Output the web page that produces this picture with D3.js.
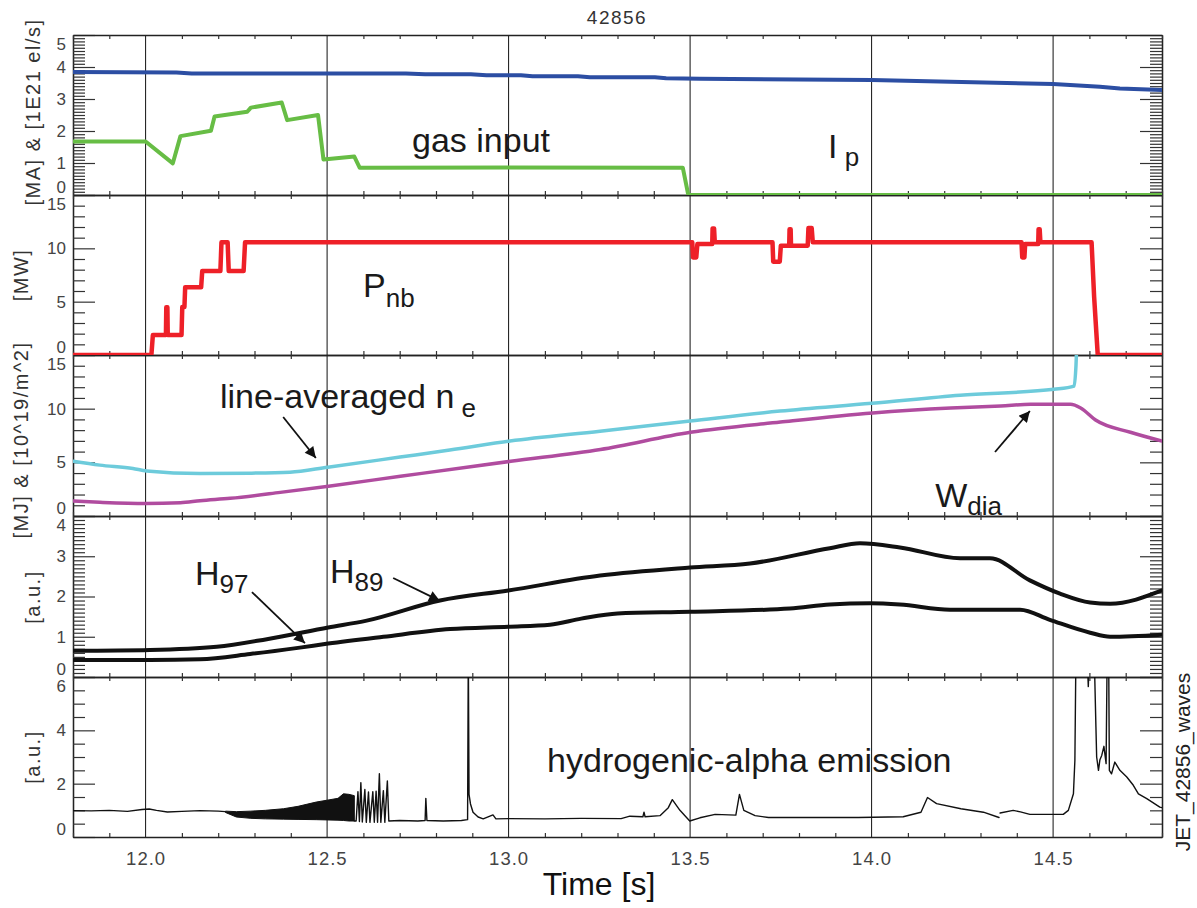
<!DOCTYPE html>
<html>
<head>
<meta charset="utf-8">
<script src="https://cdn.jsdelivr.net/npm/d3@7"></script>
<style>
body { margin: 0; background: #fff; }
text { font-family: "Liberation Sans", Arial, Helvetica, sans-serif; }
</style>
</head>
<body>
<script>
// ---- data (time in s) ----
const xDomain = [11.8, 14.8];
const xMajor = [12.0, 12.5, 13.0, 13.5, 14.0, 14.5];
const xLabels = ["12.0", "12.5", "13.0", "13.5", "14.0", "14.5"];

const yDomains = [[0, 5], [0, 15], [0, 15], [0, 4], [0, 6]];
const yMajorStep = [1, 5, 5, 1, 2];
const yMinorStep = [0.1, 1, 1, 0.1, 0.5];
const yTitles = ["[MA] & [1E21 el/s]", "[MW]", "[MJ] & [10^19/m^2]", "[a.u.]", "[a.u.]"];

// panel 1: plasma current and gas input
const ipT = [11.8, 12.085, 12.127, 12.717, 12.77, 12.896, 12.939, 13.034, 13.066, 13.191, 13.224, 13.403, 13.434, 13.527, 14.0, 14.5, 14.629, 14.684, 14.8];
const ipV = [3.84, 3.83, 3.80, 3.80, 3.77, 3.77, 3.74, 3.74, 3.71, 3.71, 3.68, 3.68, 3.65, 3.63, 3.59, 3.47, 3.38, 3.33, 3.28];
const gasT = [11.8, 12.0, 12.075, 12.096, 12.18, 12.19, 12.28, 12.29, 12.375, 12.39, 12.475, 12.49, 12.575, 12.59, 13.0, 13.48, 13.495, 14.8];
const gasV = [1.67, 1.67, 0.99, 1.84, 2.01, 2.45, 2.60, 2.73, 2.89, 2.34, 2.50, 1.11, 1.20, 0.85, 0.86, 0.85, 0.0, 0.0];

// panel 2: neutral beam power
const pnbT = [11.8, 12.016, 12.02, 12.056, 12.057, 12.06, 12.061, 12.099, 12.101, 12.107, 12.109, 12.153, 12.156, 12.206, 12.209, 12.226, 12.229, 12.27, 12.274,
  13.506, 13.508, 13.517, 13.52, 13.561, 13.562, 13.566, 13.568, 13.727, 13.729, 13.747, 13.75, 13.773, 13.774, 13.777, 13.778, 13.824, 13.826, 13.835, 13.838,
  14.413, 14.415, 14.421, 14.423, 14.459, 14.46, 14.463, 14.465, 14.606, 14.613, 14.618, 14.623, 14.8];
const pnbV = [0, 0, 1.87, 1.87, 4.47, 4.47, 1.87, 1.87, 4.5, 4.5, 6.35, 6.35, 7.87, 7.87, 10.56, 10.56, 7.87, 7.87, 10.56,
  10.56, 9.15, 9.15, 10.4, 10.4, 11.87, 11.87, 10.56, 10.56, 8.75, 8.75, 10.25, 10.25, 11.78, 11.78, 10.25, 10.25, 11.9, 11.9, 10.56,
  10.56, 9.15, 9.15, 10.4, 10.4, 11.8, 11.8, 10.56, 10.56, 5.47, 2.72, 0, 0];

// panel 3: line-averaged density and diamagnetic energy
const neT = [11.8, 11.874, 11.965, 12.003, 12.15, 12.288, 12.398, 12.502, 12.701, 12.838, 13.004, 13.252, 13.5, 13.748, 14.001, 14.244, 14.502, 14.558, 14.563, 14.566];
const neV = [5.1, 4.74, 4.43, 4.2, 3.96, 3.99, 4.08, 4.55, 5.49, 6.14, 6.98, 7.9, 8.85, 9.78, 10.5, 11.26, 11.8, 12.1, 14.0, 16.5];
const wdiaT = [11.8, 11.874, 12.0, 12.096, 12.15, 12.233, 12.371, 12.504, 12.702, 13.006, 13.253, 13.501, 13.749, 14.003, 14.218, 14.356, 14.438, 14.548, 14.576, 14.617, 14.713, 14.8];
const wdiaV = [1.4, 1.28, 1.16, 1.23, 1.42, 1.65, 2.2, 2.78, 3.7, 5.1, 6.2, 7.8, 8.75, 9.6, 10.06, 10.25, 10.4, 10.4, 10.06, 8.94, 7.8, 6.98];

// panel 4: confinement factors
const h89T = [11.8, 12.012, 12.196, 12.334, 12.503, 12.609, 12.811, 12.999, 13.252, 13.5, 13.665, 13.885, 13.968, 14.078, 14.244, 14.326, 14.436, 14.519, 14.602, 14.657, 14.8];
const h89V = [0.65, 0.67, 0.75, 0.94, 1.23, 1.4, 1.9, 2.15, 2.52, 2.72, 2.82, 3.2, 3.32, 3.22, 2.95, 2.95, 2.4, 2.07, 1.85, 1.82, 2.15];
const h97T = [11.8, 12.012, 12.15, 12.288, 12.425, 12.503, 12.655, 12.839, 12.999, 13.114, 13.2, 13.3, 13.5, 13.775, 13.885, 13.996, 14.078, 14.216, 14.409, 14.491, 14.602, 14.657, 14.8];
const h97V = [0.42, 0.42, 0.44, 0.57, 0.73, 0.83, 1.0, 1.19, 1.25, 1.3, 1.45, 1.58, 1.62, 1.7, 1.8, 1.83, 1.8, 1.67, 1.67, 1.42, 1.1, 1.0, 1.05];

// panel 5: H-alpha emission (segments around the dense ELM band and the gap at 14.35 s)
const haPreT = [11.8, 11.85, 11.9, 11.95, 11.99, 12.01, 12.03, 12.06, 12.1, 12.15, 12.2, 12.22];
const haPreV = [0.99, 0.98, 1.0, 0.96, 1.03, 1.05, 1.0, 0.94, 0.96, 0.99, 0.97, 0.95];
const haT = [12.575, 12.58, 12.585, 12.589, 12.593, 12.597, 12.604, 12.608, 12.614, 12.618, 12.626, 12.63, 12.635, 12.639, 12.644, 12.648, 12.655, 12.659, 12.666, 12.67,
  12.7, 12.75, 12.77, 12.772, 12.775, 12.82, 12.87, 12.887, 12.889, 12.891, 12.895, 12.902, 12.916, 12.93, 12.957, 12.965, 13.0, 13.1, 13.2, 13.31,
  13.334, 13.37, 13.373, 13.376, 13.417, 13.44, 13.451, 13.472, 13.499, 13.527, 13.569, 13.626, 13.636, 13.648, 13.679, 13.716, 13.839, 13.963, 14.087,
  14.136, 14.154, 14.179, 14.246, 14.308, 14.351];
const haV = [0.6, 0.6, 1.7, 0.58, 2.04, 0.56, 1.78, 0.55, 1.69, 0.55, 1.7, 0.55, 1.72, 0.55, 2.37, 0.55, 1.74, 0.55, 2.1, 0.6,
  0.62, 0.6, 0.62, 1.45, 0.62, 0.6, 0.62, 0.65, 7.0, 1.6, 1.24, 0.93, 0.75, 0.68, 0.83, 0.68, 0.69, 0.68, 0.7, 0.69,
  0.78, 0.76, 0.93, 0.76, 0.8, 1.1, 1.4, 1.0, 0.6, 0.72, 0.85, 0.82, 1.6, 1.0, 0.8, 0.73, 0.73, 0.73, 0.76,
  0.93, 1.48, 1.25, 1.06, 0.93, 0.73];
const ha2T = [14.354, 14.39, 14.41, 14.436, 14.528, 14.542, 14.556, 14.56, 14.563, 14.593, 14.597, 14.6, 14.613, 14.618, 14.62, 14.625, 14.629, 14.634,
  14.64, 14.646, 14.649, 14.653, 14.655, 14.661, 14.67, 14.684, 14.703, 14.721, 14.735, 14.758, 14.794, 14.8];
const ha2V = [0.9, 1.0, 0.94, 0.85, 0.85, 1.0, 1.62, 2.87, 7.0, 7.0, 5.64, 7.0, 7.0, 4.12, 3.0, 2.5, 2.9, 3.06,
  3.4, 2.75, 7.0, 7.0, 2.5, 2.37, 2.81, 2.5, 2.25, 1.94, 1.62, 1.44, 1.12, 1.1];
const elmT = [12.22, 12.25, 12.29, 12.33, 12.38, 12.42, 12.47, 12.5, 12.53, 12.545, 12.56, 12.575];
const elmTop = [0.97, 0.95, 0.97, 1.0, 1.06, 1.15, 1.31, 1.38, 1.45, 1.62, 1.6, 1.55];
const elmBot = [0.92, 0.75, 0.7, 0.68, 0.67, 0.66, 0.65, 0.64, 0.63, 0.62, 0.6, 0.6];

// ---- layout ----
const W = 1197, Hgt = 908;
const L = 73, R = 1162;
const panelTop = [35, 195, 355, 516, 677];
const panelBot = [195, 355, 516, 677, 837];
const titlePos = [[33, 112], [21, 275], [21, 440], [33, 597], [33, 757]];

const zip = (a, b) => a.map((t, i) => [t, b[i]]);

const svg = d3.select("body").append("svg").attr("width", W).attr("height", Hgt);
const defs = svg.append("defs");
defs.append("marker").attr("id", "arrow")
  .attr("viewBox", "0 0 10 10").attr("refX", 10).attr("refY", 5)
  .attr("markerWidth", 16).attr("markerHeight", 11).attr("markerUnits", "userSpaceOnUse")
  .attr("orient", "auto")
  .append("path").attr("d", "M0,0 L10,5 L0,10 Z").attr("fill", "#111");

const x = d3.scaleLinear().domain(xDomain).range([L, R]);
const ys = yDomains.map((d, i) => d3.scaleLinear().domain(d).range([panelBot[i], panelTop[i]]));

const xMinor = d3.range(11.8, 14.8 + 1e-9, 0.1).filter(v => Math.abs(v * 2 - Math.round(v * 2)) > 1e-6);

// title
svg.append("text").attr("x", 617).attr("y", 24).attr("text-anchor", "middle")
  .attr("font-size", 19).attr("letter-spacing", 1.5).attr("fill", "#333").text("42856");

// vertical grid lines through all panels
svg.append("g").selectAll("line").data(xMajor).join("line")
  .attr("x1", d => x(d)).attr("x2", d => x(d))
  .attr("y1", panelTop[0]).attr("y2", panelBot[4])
  .attr("stroke", "#111").attr("stroke-width", 1);

// panels: boxes, ticks, labels
yDomains.forEach((dom, i) => {
  const y = ys[i];
  const g = svg.append("g");
  g.append("clipPath").attr("id", "clip" + i).append("rect")
    .attr("x", L).attr("y", panelTop[i]).attr("width", R - L).attr("height", panelBot[i] - panelTop[i]);

  const major = d3.range(dom[0], dom[1] + 1e-9, yMajorStep[i]);
  const minor = d3.range(dom[0], dom[1] + 1e-9, yMinorStep[i])
    .filter(v => Math.abs(v / yMajorStep[i] - Math.round(v / yMajorStep[i])) > 1e-6);

  const left = g.append("g").attr("transform", `translate(${L},0)`)
    .call(d3.axisLeft(y).tickValues(major).tickSize(-22).tickSizeOuter(0).tickPadding(7)
      .tickFormat(d3.format("d")));
  left.selectAll("text").attr("font-size", 17).attr("fill", "#444")
    .attr("y", d => d === dom[1] ? 9 : (d === dom[0] ? -8 : 0));
  g.append("g").attr("transform", `translate(${L},0)`)
    .call(d3.axisLeft(y).tickValues(minor).tickSize(-12).tickSizeOuter(0).tickFormat(""));
  g.append("g").attr("transform", `translate(${R},0)`)
    .call(d3.axisRight(y).tickValues(major).tickSize(-22).tickSizeOuter(0).tickFormat(""));
  g.append("g").attr("transform", `translate(${R},0)`)
    .call(d3.axisRight(y).tickValues(minor).tickSize(-12).tickSizeOuter(0).tickFormat(""));
  g.append("g").attr("transform", `translate(0,${panelBot[i]})`)
    .call(d3.axisBottom(x).tickValues(xMinor).tickSize(-4).tickSizeOuter(0).tickFormat(""));
  g.append("g").attr("transform", `translate(0,${panelTop[i]})`)
    .call(d3.axisTop(x).tickValues(xMinor).tickSize(-4).tickSizeOuter(0).tickFormat(""));

  g.selectAll(".domain").attr("stroke", "#222").attr("stroke-width", 1.3);
  g.selectAll(".tick line").attr("stroke", "#333").attr("stroke-width", 1.2);

  svg.append("text")
    .attr("transform", `translate(${titlePos[i][0]},${titlePos[i][1]}) rotate(-90)`)
    .attr("text-anchor", "middle").attr("dominant-baseline", "central")
    .attr("font-size", 20).attr("letter-spacing", 1.5).attr("fill", "#333")
    .text(yTitles[i]);
});

// x labels at bottom
svg.append("g").attr("transform", `translate(0,${panelBot[4]})`)
  .call(d3.axisBottom(x).tickValues(xMajor).tickSize(0).tickPadding(15)
    .tickFormat((d, i) => xLabels[i]))
  .call(g => g.select(".domain").remove())
  .selectAll("text").attr("font-size", 18.5).attr("letter-spacing", 1).attr("fill", "#444");

svg.append("text").attr("x", 599).attr("y", 895).attr("text-anchor", "middle")
  .attr("font-size", 32).attr("fill", "#111").text("Time [s]");

svg.append("text").attr("transform", "translate(1190,762) rotate(-90)")
  .attr("text-anchor", "middle").attr("font-size", 21).attr("fill", "#222")
  .text("JET_42856_waves");

// ---- series ----
function drawLine(i, pts, color, width, curve) {
  const line = d3.line().x(d => x(d[0])).y(d => ys[i](d[1])).curve(curve || d3.curveLinear);
  svg.append("path").datum(pts).attr("clip-path", `url(#clip${i})`)
    .attr("d", line).attr("fill", "none").attr("stroke", color)
    .attr("stroke-width", width).attr("stroke-linejoin", "round").attr("stroke-linecap", "round");
}

drawLine(0, zip(ipT, ipV), "#2c4ea3", 4);
drawLine(0, zip(gasT, gasV), "#67bd45", 4);
drawLine(1, zip(pnbT, pnbV), "#ee2028", 4.5);
drawLine(2, zip(wdiaT, wdiaV), "#b04c9f", 3.5, d3.curveMonotoneX);
drawLine(2, zip(neT, neV), "#6dcbdb", 3.5, d3.curveMonotoneX);
drawLine(3, zip(h89T, h89V), "#111", 4, d3.curveMonotoneX);
drawLine(3, zip(h97T, h97V), "#111", 4, d3.curveMonotoneX);

svg.append("path").datum(elmT.map((t, k) => [t, elmTop[k], elmBot[k]]))
  .attr("clip-path", "url(#clip4)")
  .attr("d", d3.area().x(d => x(d[0])).y0(d => ys[4](d[2])).y1(d => ys[4](d[1])))
  .attr("fill", "#111").attr("stroke", "#111").attr("stroke-width", 1);
drawLine(4, zip(haPreT, haPreV), "#111", 1.4);
drawLine(4, zip(haT, haV), "#111", 1.4);
drawLine(4, zip(ha2T, ha2V), "#111", 1.4);

// ---- annotations (positions in data units of each panel) ----
const notes = [
  { p: 0, t: 12.734, v: 1.34, parts: [["gas input", 0, 34]] },
  { p: 0, t: 13.88, v: 1.16, parts: [["I", 0, 34], [" p", 8, 26]] },
  { p: 1, t: 12.599, v: 5.44, parts: [["P", 0, 34], ["nb", 10, 26]] },
  { p: 2, t: 12.205, v: 10.06, parts: [["line-averaged n", 0, 34], [" e", 9, 26]] },
  { p: 2, t: 14.175, v: 0.84, parts: [["W", 0, 34], ["dia", 8, 26]] },
  { p: 3, t: 12.136, v: 2.29, parts: [["H", 0, 34], ["97", 8, 26]] },
  { p: 3, t: 12.508, v: 2.34, parts: [["H", 0, 34], ["89", 8, 26]] },
  { p: 4, t: 13.106, v: 2.44, parts: [["hydrogenic-alpha emission", 0, 34]] }
];
notes.forEach(n => {
  const txt = svg.append("text").attr("x", x(n.t)).attr("y", ys[n.p](n.v)).attr("fill", "#1a1a1a");
  let prev = 0;
  n.parts.forEach(([s, dy, fs]) => {
    txt.append("tspan").attr("dy", dy - prev).attr("font-size", fs).text(s);
    prev = dy;
  });
});

const arrows = [
  { p: 2, t0: 12.379, v0: 9.22, t1: 12.469, v1: 5.4 },
  { p: 2, t0: 14.34, v0: 5.96, t1: 14.436, v1: 9.78 },
  { p: 3, t0: 12.293, v0: 2.11, t1: 12.439, v1: 0.84 },
  { p: 3, t0: 12.682, v0: 2.46, t1: 12.811, v1: 1.89 }
];
svg.append("g").selectAll("line").data(arrows).join("line")
  .attr("x1", d => x(d.t0)).attr("y1", d => ys[d.p](d.v0))
  .attr("x2", d => x(d.t1)).attr("y2", d => ys[d.p](d.v1))
  .attr("stroke", "#111").attr("stroke-width", 1.8).attr("marker-end", "url(#arrow)");
</script>
</body>
</html>
